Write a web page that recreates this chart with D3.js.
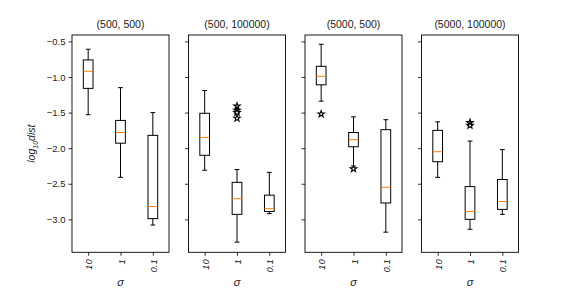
<!DOCTYPE html>
<html>
<head>
<meta charset="utf-8">
<script src="https://cdn.jsdelivr.net/npm/d3@7"></script>
<style>
  body { margin: 0; background: #fff; }
  svg { font-family: "Liberation Sans", Arial, sans-serif; }
</style>
</head>
<body>
<svg id="chart" width="576" height="288"></svg>
<script>
// panel titles and sigma categories
const panelTitles = ['(500, 500)', '(500, 100000)', '(5000, 500)', '(5000, 100000)'];
const sigmaLabels = ['10', '1', '0.1'];
const yTicks = [-0.5, -1.0, -1.5, -2.0, -2.5, -3.0];

// box stats per panel, one value per sigma
const whiskerHigh = [[-0.61, -1.15, -1.50], [-1.19, -2.30, -2.34], [-0.54, -1.56, -1.60], [-1.63, -1.90, -2.02]];
const q3 = [[-0.76, -1.61, -1.82], [-1.51, -2.48, -2.66], [-0.85, -1.78, -1.74], [-1.75, -2.54, -2.44]];
const medians = [[-0.92, -1.78, -2.82], [-1.85, -2.71, -2.85], [-0.99, -1.88, -2.55], [-2.05, -2.89, -2.75]];
const q1 = [[-1.16, -1.93, -2.99], [-2.10, -2.93, -2.89], [-1.11, -1.98, -2.77], [-2.19, -3.00, -2.86]];
const whiskerLow = [[-1.53, -2.41, -3.08], [-2.31, -3.32, -2.92], [-1.34, -2.25, -3.18], [-2.41, -3.14, -2.93]];
const outliers = [[[], [], []], [[], [-1.41, -1.47, -1.50, -1.58], []], [[-1.52], [-2.29], []], [[], [-1.64, -1.68], []]];

const svg = d3.select('#chart');
const panelLeft = [72, 188.5, 305, 421.5];
const panelW = 97;
const plotTop = 35, plotBottom = 252.3;

const y = d3.scaleLinear().domain([-3.463, -0.41]).range([plotBottom, plotTop]);

panelTitles.forEach((title, p) => {
    const g = svg.append('g').attr('transform', `translate(${panelLeft[p]},0)`);
    const x = d3.scalePoint().domain(sigmaLabels).range([0, panelW]).padding(0.5);
    const bw = x.step() * 0.3;

    // y axis ticks
    const yAxis = d3.axisLeft(y).tickValues(yTicks).tickSize(3.5).tickPadding(3)
        .tickFormat(p === 0 ? (d => d3.format('.1f')(d).replace('-', '\u2212')) : '');
    const ya = g.append('g').call(yAxis);
    ya.select('.domain').remove();
    ya.selectAll('line').attr('stroke', '#000').attr('stroke-width', 0.8);
    ya.selectAll('text').attr('font-size', 9.5).attr('fill', '#222');

    // x axis ticks
    const xAxis = d3.axisBottom(x).tickSize(3.5).tickPadding(3);
    const xa = g.append('g').attr('transform', `translate(0,${plotBottom})`).call(xAxis);
    xa.select('.domain').remove();
    xa.selectAll('line').attr('stroke', '#000').attr('stroke-width', 0.8);
    xa.selectAll('text')
        .attr('font-size', 9.5).attr('font-style', 'italic').attr('fill', '#222')
        .attr('text-anchor', 'end').attr('dy', null).attr('y', 0)
        .attr('transform', 'translate(3.5,7) rotate(-90)');

    // frame
    g.append('rect').attr('x', 0).attr('y', plotTop).attr('width', panelW).attr('height', plotBottom - plotTop)
        .attr('fill', 'none').attr('stroke', '#000').attr('stroke-width', 0.9);

    sigmaLabels.forEach((s, i) => {
        const cx = x(s);
        const bg = g.append('g').attr('stroke', '#000').attr('stroke-width', 1).attr('fill', 'none');
        bg.append('line').attr('x1', cx).attr('x2', cx).attr('y1', y(whiskerHigh[p][i])).attr('y2', y(q3[p][i]));
        bg.append('line').attr('x1', cx).attr('x2', cx).attr('y1', y(q1[p][i])).attr('y2', y(whiskerLow[p][i]));
        bg.append('line').attr('x1', cx - bw / 4).attr('x2', cx + bw / 4).attr('y1', y(whiskerHigh[p][i])).attr('y2', y(whiskerHigh[p][i]));
        bg.append('line').attr('x1', cx - bw / 4).attr('x2', cx + bw / 4).attr('y1', y(whiskerLow[p][i])).attr('y2', y(whiskerLow[p][i]));
        bg.append('rect').attr('x', cx - bw / 2).attr('width', bw)
            .attr('y', y(q3[p][i])).attr('height', y(q1[p][i]) - y(q3[p][i]));
        g.append('line').attr('x1', cx - bw / 2).attr('x2', cx + bw / 2)
            .attr('y1', y(medians[p][i])).attr('y2', y(medians[p][i]))
            .attr('stroke', '#ff7f0e').attr('stroke-width', 1);

        g.selectAll(null).data(outliers[p][i]).enter().append('path')
            .attr('d', d3.symbol().type(d3.symbolStar).size(13))
            .attr('transform', d => `translate(${cx},${y(d)})`)
            .attr('fill', '#fff').attr('stroke', '#000').attr('stroke-width', 1.1);
    });

    // title
    g.append('text').attr('x', panelW / 2).attr('y', 28).attr('text-anchor', 'middle')
        .attr('font-size', 10.5).attr('fill', '#222').text(title);

    // x label
    g.append('text').attr('x', panelW / 2).attr('y', 286).attr('text-anchor', 'middle')
        .attr('font-size', 11).attr('font-style', 'italic').attr('fill', '#222').text('\u03c3');
});

// y label
const yl = svg.append('text').attr('transform', `translate(35,${(plotTop + plotBottom) / 2}) rotate(-90)`)
    .attr('text-anchor', 'middle').attr('font-size', 10.5).attr('font-style', 'italic').attr('fill', '#222');
yl.append('tspan').text('log');
yl.append('tspan').attr('font-size', 7).attr('dy', 2.5).text('10');
yl.append('tspan').attr('dy', -2.5).text('dist');
</script>
</body>
</html>
